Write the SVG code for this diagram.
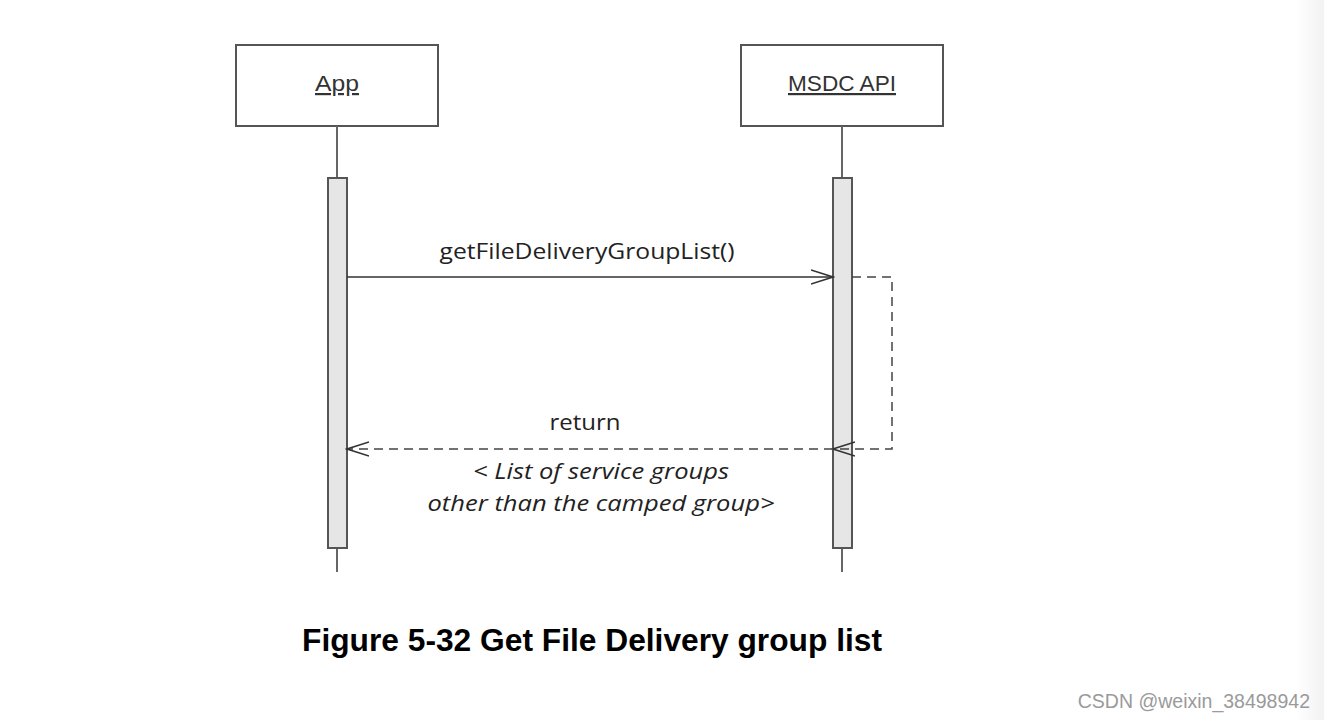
<svg xmlns="http://www.w3.org/2000/svg" width="1324" height="720" viewBox="0 0 1324 720">
<defs>
<linearGradient id="edge" x1="0" y1="0" x2="1" y2="0">
<stop offset="0" stop-color="#ffffff"/>
<stop offset="1" stop-color="#f2f2f2"/>
</linearGradient>
<marker id="open" markerWidth="24" markerHeight="16" refX="22" refY="8" orient="auto" markerUnits="userSpaceOnUse">
<path d="M0,1 L22,8 L0,15" fill="none" stroke="#333" stroke-width="1.5"/>
</marker>
</defs>
<style>
.box{fill:#fff;stroke:#555;stroke-width:2}
.life{stroke:#666;stroke-width:2;fill:none}
.act{fill:#e6e6e6;stroke:#555;stroke-width:2}
.lbl{font-family:"Liberation Sans",Arial,sans-serif;font-size:22px;fill:#333;text-anchor:middle;text-decoration:underline}
.msg{font-family:"Open Sans","Noto Sans",sans-serif;font-size:22px;fill:#222;text-anchor:middle}
.it{font-style:italic}
.solid{stroke:#333;stroke-width:1.5;fill:none}
.dash{stroke:#444;stroke-width:1.5;fill:none;stroke-dasharray:9,6}
</style>
<rect x="0" y="0" width="1324" height="720" fill="#fff"/>
<rect x="1296" y="0" width="28" height="720" fill="url(#edge)"/>
<g id="app">
<rect class="box" x="236" y="45" width="202" height="81"/>
<text class="lbl" x="337" y="91" textLength="44" lengthAdjust="spacingAndGlyphs">App</text>
<line class="life" x1="337" y1="126" x2="337" y2="572"/>
<rect class="act" x="328" y="178" width="19" height="370"/>
</g>
<g id="msdc">
<rect class="box" x="741" y="45" width="202" height="81"/>
<text class="lbl" x="842" y="91" textLength="108" lengthAdjust="spacingAndGlyphs">MSDC API</text>
<line class="life" x1="842" y1="126" x2="842" y2="572"/>
<rect class="act" x="833" y="178" width="19" height="370"/>
</g>
<g id="connectors">
<line class="solid" x1="347" y1="277" x2="833" y2="277" marker-end="url(#open)"/>
<polyline class="dash" points="852,277 892,277 892,449 833,449" marker-end="url(#open)"/>
<line class="dash" x1="833" y1="449" x2="347" y2="449" marker-end="url(#open)"/>
<text class="msg" x="587" y="259" textLength="295" lengthAdjust="spacingAndGlyphs">getFileDeliveryGroupList()</text>
<text class="msg" x="585" y="430" textLength="71" lengthAdjust="spacingAndGlyphs">return</text>
<text class="msg it" x="601" y="479" textLength="256" lengthAdjust="spacingAndGlyphs">&lt; List of service groups</text>
<text class="msg it" x="601" y="511" textLength="347" lengthAdjust="spacingAndGlyphs">other than the camped group&gt;</text>
</g>
<text x="592" y="651" font-family="'Liberation Sans',Arial,sans-serif" font-weight="bold" font-size="31" fill="#000" text-anchor="middle" textLength="580" lengthAdjust="spacingAndGlyphs">Figure 5-32 Get File Delivery group list</text>
<text x="1310" y="708" font-family="'Liberation Sans',Arial,sans-serif" font-size="19.5" fill="#9a9a9a" text-anchor="end">CSDN @weixin_38498942</text>
</svg>
